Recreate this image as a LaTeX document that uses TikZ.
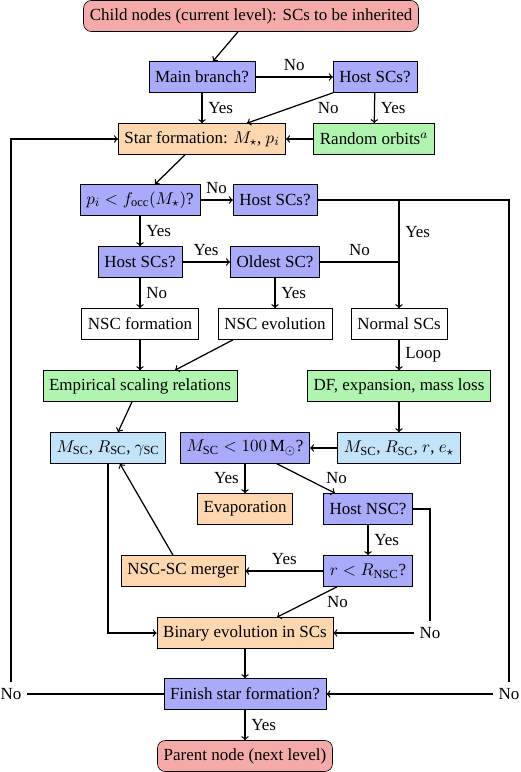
\documentclass[tikz,border=0pt,11pt]{standalone}
\usepackage{fontspec}
\setmainfont{Liberation Serif}
\usetikzlibrary{calc}
\definecolor{nodered}{RGB}{245,170,170}
\definecolor{nodeblue}{RGB}{170,170,250}
\definecolor{nodecyan}{RGB}{195,228,248}
\definecolor{nodegreen}{RGB}{175,245,175}
\definecolor{nodeorange}{RGB}{252,215,175}
\begin{document}
\begin{tikzpicture}[x=0.645pt,y=-0.645pt,
    box/.style={draw,minimum height=20pt,inner xsep=4pt},
    term/.style={box,rounded corners=5pt,fill=nodered},
    ask/.style={box,fill=nodeblue},
    prop/.style={box,fill=nodecyan},
    model/.style={box,fill=nodegreen},
    event/.style={box,fill=nodeorange},
    plain/.style={box,fill=white},
    flow/.style={->,thick}]
      \useasboundingbox (0,0) rectangle (520,772);
      \node[term] (child) at (251,16) {Child nodes (current level): SCs to be inherited};
      \node[ask] (mainbr) at (202,77) {Main branch?};
      \node[ask] (hostA) at (375,77) {Host SCs?};
      \node[event] (starf) at (202,139) {Star formation: $M_\star$, $p_i$};
      \node[model] (orbits) at (374,139) {Random orbits$^a$};
      \node[ask] (pocc) at (140,200) {$p_i < f_{\mathrm{occ}}(M_\star)$?};
      \node[ask] (hostB) at (275,200) {Host SCs?};
      \node[ask] (hostC) at (140,262) {Host SCs?};
      \node[ask] (oldest) at (275,262) {Oldest SC?};
      \node[plain] (nscform) at (140,324) {NSC formation};
      \node[plain] (nscevol) at (275,324) {NSC evolution};
      \node[plain] (normal) at (399,324) {Normal SCs};
      \node[model] (empir) at (140,386) {Empirical scaling relations};
      \node[model] (dfloss) at (399,386) {DF, expansion, mass loss};
      \node[prop] (propA) at (108,448) {$M_{\mathrm{SC}}$, $R_{\mathrm{SC}}$, $\gamma_{\mathrm{SC}}$};
      \node[ask] (mlow) at (245,448) {$M_{\mathrm{SC}} < 100\,\mathrm{M}_\odot$?};
      \node[prop] (propB) at (399,448) {$M_{\mathrm{SC}}$, $R_{\mathrm{SC}}$, $r$, $e_\star$};
      \node[event] (evap) at (245,509) {Evaporation};
      \node[ask] (hostnsc) at (368,509) {Host NSC?};
      \node[event] (merger) at (183,571) {NSC-SC merger};
      \node[ask] (rnsc) at (368,571) {$r < R_{\mathrm{NSC}}$?};
      \node[event] (binary) at (245,633) {Binary evolution in SCs};
      \node[ask] (finish) at (245,694) {Finish star formation?};
      \node[term] (parent) at (245,756) {Parent node (next level)};
      \node (noL) at (11,694) {No};
      \node (noM) at (430,633) {No};
      \node (noR) at (509,694) {No};
      % top part
      \draw[flow] ($(child.south)+(-13,0)$) -- ($(mainbr.north)+(11,0)$);
      \draw[flow] (mainbr) -- node[above]{No} (hostA);
      \draw[flow] (mainbr) -- node[right]{Yes} (starf);
      \draw[flow] (hostA.south west) -- node[right=14pt]{No} ($(starf.north)+(45,0)$);
      \draw[flow] (hostA) -- node[right]{Yes} (orbits);
      \draw[flow] (orbits) -- (starf);
      \draw[flow] ($(starf.south)+(-17,0)$) -- ($(pocc.north)+(15,0)$);
      \draw[flow] (pocc) -- node[above]{No} (hostB);
      \draw[flow] (pocc) -- node[right]{Yes} (hostC);
      \draw[flow] (hostC) -- node[above]{Yes} (oldest);
      \draw[flow] (hostC) -- node[right]{No} (nscform);
      \draw[flow] (oldest) -- node[right]{Yes} (nscevol);
      \draw[thick] (oldest) -- node[above]{No} (oldest -| normal);
      \draw[flow] (hostB -| normal) -- node[right,pos=.3]{Yes} (normal);
      \draw[thick] (hostB) -| (noR);
      \draw[flow] (noR) -- (finish);
      % middle part
      \draw[flow] (nscform) -- (empir);
      \draw[flow] ($(nscevol.south)+(-42,0)$) -- ($(empir.north)+(35,0)$);
      \draw[flow] (normal) -- node[right]{Loop} (dfloss);
      \draw[flow] ($(empir.south)+(-8,0)$) -- ($(propA.north)+(10,0)$);
      \draw[flow] (dfloss) -- (propB);
      \draw[flow] (propB) -- (mlow);
      \draw[flow] (mlow) -- node[left]{Yes} (evap);
      \draw[flow] ($(mlow.south)+(32,0)$) -- node[right=9pt]{No} ($(hostnsc.north)+(-33,0)$);
      \draw[flow] (hostnsc) -- node[right]{Yes} (rnsc);
      \draw[thick] (hostnsc) -| (noM);
      \draw[flow] (noM) -- (binary);
      \draw[flow] (rnsc) -- node[above]{Yes} (merger);
      \draw[flow] ($(rnsc.south)+(-31,0)$) -- node[right=9pt]{No} ($(binary.north)+(32,0)$);
      \draw[flow] ($(merger.north)+(-10,0)$) -- ($(propA.south)+(12,0)$);
      % bottom part
      \draw[flow] (propA) |- (binary);
      \draw[flow] (binary) -- (finish);
      \draw[thick] (finish) -- (noL);
      \draw[flow] (noL) |- (starf);
      \draw[flow] (finish) -- node[right]{Yes} (parent);
    \end{tikzpicture}
\end{document}
